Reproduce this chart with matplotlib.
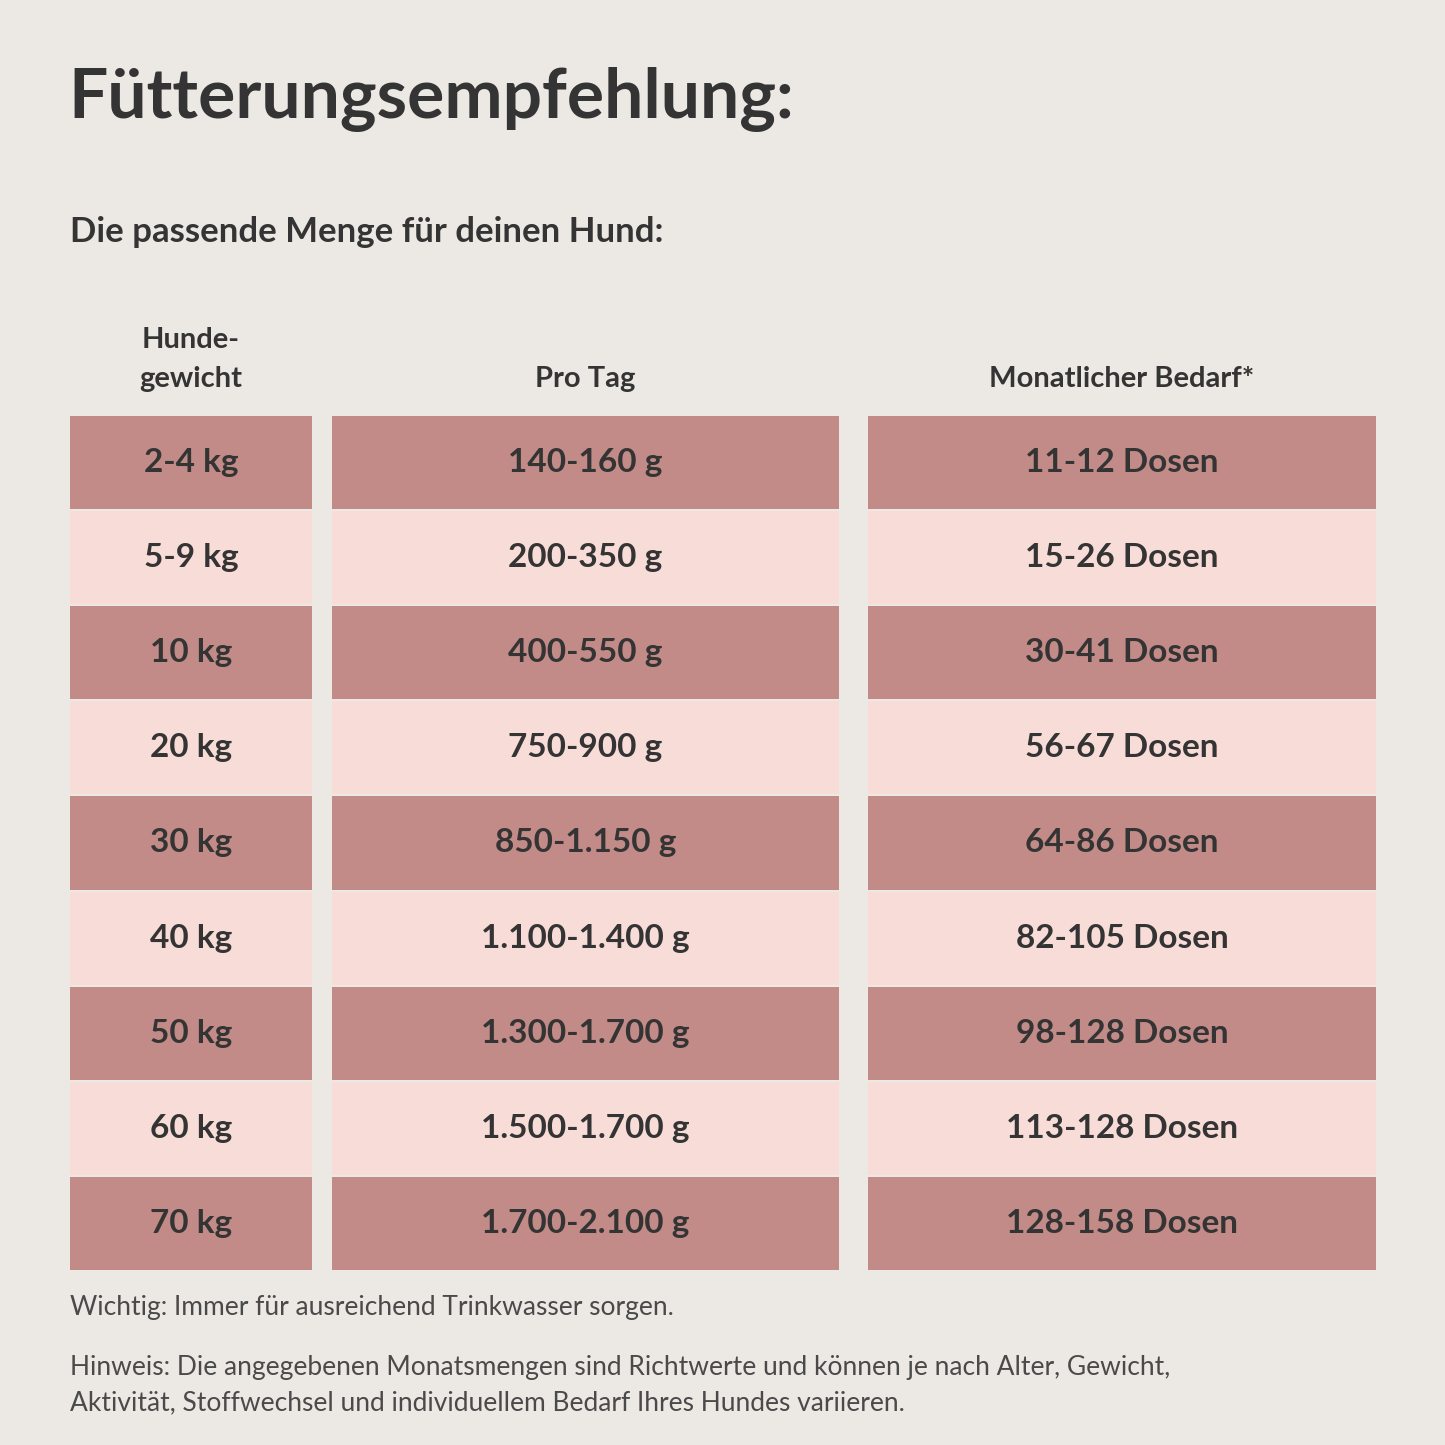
import matplotlib
matplotlib.use("Agg")
import matplotlib.pyplot as plt
import numpy as np

weights = ["2-4 kg", "5-9 kg", "10 kg", "20 kg", "30 kg", "40 kg", "50 kg", "60 kg", "70 kg"]
per_day = ["140-160 g", "200-350 g", "400-550 g", "750-900 g", "850-1.150 g",
           "1.100-1.400 g", "1.300-1.700 g", "1.500-1.700 g", "1.700-2.100 g"]
monthly = ["11-12 Dosen", "15-26 Dosen", "30-41 Dosen", "56-67 Dosen", "64-86 Dosen",
           "82-105 Dosen", "98-128 Dosen", "113-128 Dosen", "128-158 Dosen"]
headers = ["Hunde-\ngewicht", "Pro Tag", "Monatlicher Bedarf*"]

BG = "#ECE9E4"; DARK = "#C28B88"; LIGHT = "#F8DCD7"; TXT = "#343434"; GREY = "#4A4A4A"
FONT = ["Lato", "DejaVu Sans"]

fig = plt.figure(figsize=(14.45, 14.45), dpi=100, facecolor=BG)
ax = fig.add_axes([0, 0, 1, 1]); ax.set_facecolor(BG)
ax.set_xlim(0, 1445); ax.set_ylim(1445, 0); ax.axis("off")

cols = [(70, 242), (332, 507), (868, 508)]
top, rh = 415, 95.1
n = len(weights)
ys = top + rh * (np.arange(n) + 0.5)
colors = [DARK if i % 2 == 0 else LIGHT for i in range(n)]
for (x0, w), vals in zip(cols, [weights, per_day, monthly]):
    ax.barh(ys, w, left=x0, height=rh - 2, color=colors)
    for y, v in zip(ys, vals):
        ax.text(x0 + w / 2, y, v, ha="center", va="center", fontsize=24,
                fontweight="bold", color=TXT, family=FONT)

for (x0, w), h in zip(cols, headers):
    ax.text(x0 + w / 2, 392, h, ha="center", va="bottom", fontsize=21,
            fontweight="bold", color=TXT, family=FONT, linespacing=1.6)

ax.text(68, 100, "Fütterungsempfehlung:", fontsize=50, fontweight="bold",
        color=TXT, va="center", family=FONT)
ax.text(70, 232, "Die passende Menge für deinen Hund:", fontsize=25,
        fontweight="bold", color=TXT, va="center", family=FONT)
ax.text(70, 1308, "Wichtig: Immer für ausreichend Trinkwasser sorgen.", fontsize=19,
        color=GREY, va="center", family=FONT)
ax.text(70, 1385, "Hinweis: Die angegebenen Monatsmengen sind Richtwerte und können je nach Alter, Gewicht,\n"
        "Aktivität, Stoffwechsel und individuellem Bedarf Ihres Hundes variieren.",
        fontsize=19, color=GREY, va="center", family=FONT, linespacing=1.55)

fig.savefig("out.png", dpi=100, facecolor=BG)
